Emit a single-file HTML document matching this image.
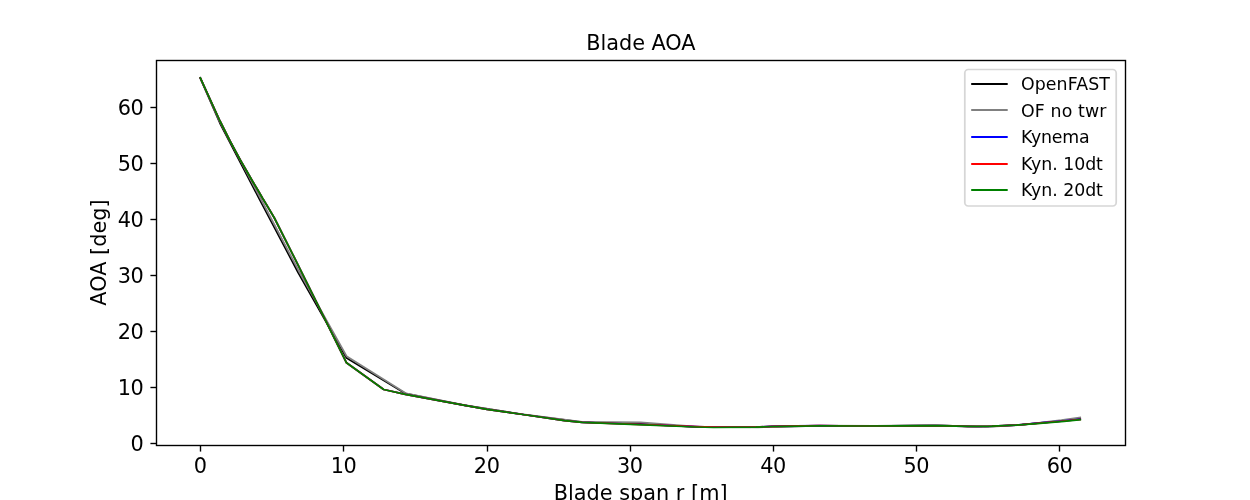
<!DOCTYPE html>
<html lang="en"><head><meta charset="utf-8"><title>Blade AOA</title>
<style>
html,body{margin:0;padding:0;background:#fff;}
body{width:1250px;height:500px;overflow:hidden;}
svg{display:block;}
text{font-family:"DejaVu Sans","Liberation Sans",sans-serif;fill:#000;}
.t{font-size:20.83px;}
.l{font-size:17.36px;}
.n{letter-spacing:-0.4px;}
</style></head><body>
<svg width="1250" height="500" viewBox="0 0 1250 500">
<rect x="0" y="0" width="1250" height="500" fill="#fff"/>
<g>
<polyline points="200.3,78.1 219.85,123 259,198.3 298.1,272.5 346.6,358 405.8,393.7 464.5,405.3 523.2,414.5 581.9,422.2 640.6,423.8 699.3,427.1 758,427.1 816.8,425.8 875.5,426 934.2,425.2 983.1,427 1022.2,424.7 1061.4,420.8 1080.2,418.6" fill="none" stroke="#000000" stroke-width="1.74" stroke-linecap="square" stroke-linejoin="round"/>
<polyline points="200.3,77.8 219.85,121.8 259,195.5 298.1,269.7 346.6,356.3 405.8,393.3 464.5,405.2 523.2,414.4 581.9,421.9 640.6,422.4 699.3,426.9 758,427.3 816.8,425.6 875.5,425.9 934.2,425 983.1,427.2 1022.2,424.8 1061.4,420.2 1080.2,417.4" fill="none" stroke="#808080" stroke-width="1.74" stroke-linecap="square" stroke-linejoin="round"/>
<polyline points="200.3,77.9 220,121 230,141 240,159.5 246.4,170.5 252.4,181 258.1,190.5 262.6,198.3 267.6,206.5 274.4,218 295,258.9 317,303.1 346.5,362.8 383.7,389.5 405.4,394.3 443,401.3 487,409.3 523,414.5 564.6,420.6 582.2,422.3 636.8,424.25 696,426.55 713.6,427.05 756,427.2 772,426.15 820,425.55 860,426 900,425.9 944,425.8 968,426.4 992,426.2 1016,425.2 1040,422.9 1064,420.8 1080.2,419.3" fill="none" stroke="#0000ff" stroke-width="1.74" stroke-linecap="square" stroke-linejoin="round"/>
<polyline points="200.3,77.9 220,121 230,141 240,159.5 246.4,170.5 252.4,181 258.1,190.5 262.6,198.3 267.6,206.5 274.4,218 295,258.9 317,303.1 346.5,362.8 383.7,389.5 405.4,394.3 443,401.3 487,409.3 523,414.5 564.6,420.6 582.2,422.3 636.8,424.43 696,426.73 713.6,427.23 756,427.2 772,426.29 820,425.69 860,426 900,425.9 944,425.8 968,426.4 992,426.2 1016,425.2 1040,423.1 1064,421 1080.2,419.5" fill="none" stroke="#ff0000" stroke-width="1.74" stroke-linecap="square" stroke-linejoin="round"/>
<polyline points="200.3,77.9 220,121 230,141 240,159.5 246.4,170.5 252.4,181 258.1,190.5 262.6,198.3 267.6,206.5 274.4,218 295,258.9 317,303.1 346.5,362.8 383.7,389.5 405.4,394.3 443,401.3 487,409.3 523,414.5 564.6,420.6 582.2,422.3 636.8,424.7 696,427 713.6,427.5 756,427.2 772,426.5 820,425.9 860,426 900,425.9 944,425.8 968,426.4 992,426.2 1016,425.2 1040,423.4 1064,421.3 1080.2,419.8" fill="none" stroke="#008000" stroke-width="1.74" stroke-linecap="square" stroke-linejoin="round"/>
</g>
<g stroke="#000" stroke-width="1.39" fill="none">
<line x1="200.5" y1="445.5" x2="200.5" y2="451.58"/>
<line x1="343.5" y1="445.5" x2="343.5" y2="451.58"/>
<line x1="487.5" y1="445.5" x2="487.5" y2="451.58"/>
<line x1="630.5" y1="445.5" x2="630.5" y2="451.58"/>
<line x1="773.5" y1="445.5" x2="773.5" y2="451.58"/>
<line x1="916.5" y1="445.5" x2="916.5" y2="451.58"/>
<line x1="1059.5" y1="445.5" x2="1059.5" y2="451.58"/>
<line x1="150.42" y1="443.5" x2="156.5" y2="443.5"/>
<line x1="150.42" y1="387.5" x2="156.5" y2="387.5"/>
<line x1="150.42" y1="331.5" x2="156.5" y2="331.5"/>
<line x1="150.42" y1="275.5" x2="156.5" y2="275.5"/>
<line x1="150.42" y1="219.5" x2="156.5" y2="219.5"/>
<line x1="150.42" y1="163.5" x2="156.5" y2="163.5"/>
<line x1="150.42" y1="107.5" x2="156.5" y2="107.5"/>
<rect x="156.5" y="60.5" width="969" height="385" stroke-linejoin="miter"/>
</g>
<g class="t" text-anchor="middle">
<text class="n" x="200.28" y="473.2">0</text>
<text class="n" x="343.48" y="473.2">10</text>
<text class="n" x="486.68" y="473.2">20</text>
<text class="n" x="629.88" y="473.2">30</text>
<text class="n" x="773.08" y="473.2">40</text>
<text class="n" x="916.28" y="473.2">50</text>
<text class="n" x="1059.48" y="473.2">60</text>
<text x="640.625" y="500.09">Blade span r [m]</text>
<text x="640.9" y="49.58" letter-spacing="-0.06">Blade AOA</text>
<text x="106.31" y="252.5" transform="rotate(-90 106.31 252.5)">AOA [deg]</text>
</g>
<g class="t n" text-anchor="end">
<text x="143.4" y="451">0</text>
<text x="143.4" y="395">10</text>
<text x="143.4" y="339">20</text>
<text x="143.4" y="283">30</text>
<text x="143.4" y="227">40</text>
<text x="143.4" y="171">50</text>
<text x="143.4" y="115">60</text>
</g>
<rect x="964.8" y="69.5" width="151.4" height="136.5" rx="3.47" ry="3.47" fill="#fff" fill-opacity="0.8" stroke="#ccc" stroke-opacity="0.8" stroke-width="1.74"/>
<g class="l">
<line x1="972.2" y1="84" x2="1006.7" y2="84" stroke="#000000" stroke-width="2" stroke-linecap="square"/>
<text x="1021" y="89.98" letter-spacing="0.085">OpenFAST</text>
<line x1="972.2" y1="110" x2="1006.7" y2="110" stroke="#808080" stroke-width="2" stroke-linecap="square"/>
<text x="1021" y="116.52" letter-spacing="0.12">OF no twr</text>
<line x1="972.2" y1="137" x2="1006.7" y2="137" stroke="#0000ff" stroke-width="2" stroke-linecap="square"/>
<text x="1021" y="143.06" letter-spacing="-0.21">Kynema</text>
<line x1="972.2" y1="164" x2="1006.7" y2="164" stroke="#ff0000" stroke-width="2" stroke-linecap="square"/>
<text x="1021" y="169.6" letter-spacing="-0.056">Kyn. 10dt</text>
<line x1="972.2" y1="190" x2="1006.7" y2="190" stroke="#008000" stroke-width="2" stroke-linecap="square"/>
<text x="1021" y="196.14" letter-spacing="-0.056">Kyn. 20dt</text>
</g>
</svg>
</body></html>
